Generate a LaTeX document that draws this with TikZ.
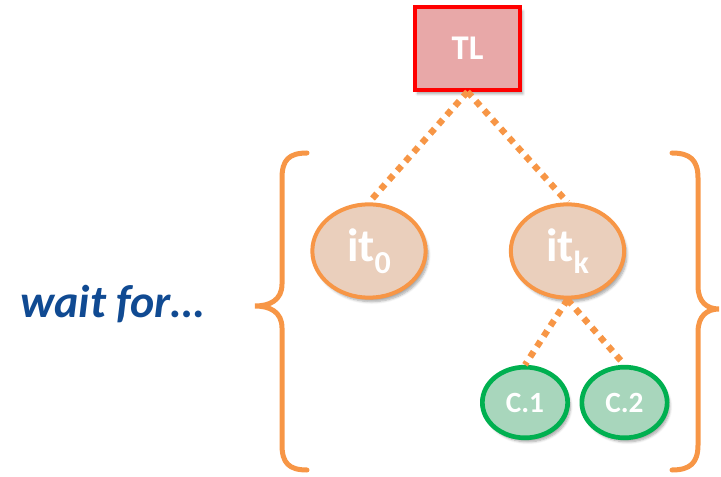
\documentclass[tikz,border=0pt]{standalone}
\usepackage{fontspec}
\setmainfont{Carlito}
\usetikzlibrary{shapes.geometric,shadows.blur}

\definecolor{tlred}{RGB}{255,0,0}
\definecolor{tlfill}{RGB}{232,168,168}
\definecolor{itorange}{RGB}{247,150,70}
\definecolor{itfill}{RGB}{234,207,188}
\definecolor{cgreen}{RGB}{0,176,80}
\definecolor{cfill}{RGB}{168,214,188}
\definecolor{waitblue}{RGB}{16,74,146}

\newcommand{\itsub}[1]{\raisebox{-9pt}{\fontsize{24}{24}\selectfont #1}}

\begin{document}
\begin{tikzpicture}[x=0.75pt,y=-0.75pt,
  softshadow/.style={blur shadow={shadow xshift=2pt,shadow yshift=-3pt,shadow opacity=35,shadow blur steps=6}},
  tlbox/.style={draw=tlred,fill=tlfill,line width=3pt,minimum width=79pt,minimum height=62pt,
    text=white,font=\bfseries\fontsize{26}{26}\selectfont,softshadow},
  itnode/.style={ellipse,draw=itorange,fill=itfill,line width=3pt,minimum width=85pt,minimum height=70pt,
    text=white,font=\bfseries\fontsize{35}{35}\selectfont,softshadow},
  cnode/.style={ellipse,draw=cgreen,fill=cfill,line width=3.5pt,minimum width=64pt,minimum height=53pt,
    text=white,font=\bfseries\fontsize{22}{22}\selectfont,softshadow},
  dotline/.style={draw=itorange,line width=4.8pt,dash pattern=on 4.8pt off 4.5pt},
  bracket/.style={draw=itorange,line width=3.75pt,line cap=round}]
\tikzstyle{every node}+=[inner sep=0pt]
\useasboundingbox (0,0) rectangle (721,477);

% braces
\draw [bracket] (307,153) .. controls (289,153) and (282,160) .. (282,178) -- (282,284)
  .. controls (282,300) and (270,306) .. (255,306) .. controls (270,306) and (282,312) .. (282,328)
  -- (282,445) .. controls (282,463) and (289,470) .. (307,470);
\draw [bracket] (672,153) .. controls (690,153) and (698,160) .. (698,178) -- (698,286)
  .. controls (698,302) and (707,309) .. (719,309) .. controls (707,309) and (698,316) .. (698,332)
  -- (698,445) .. controls (698,463) and (690,470) .. (672,470);

% node places
\path (467.5,48.5) coordinate (tlpos) (369,251) coordinate (it0pos) (567.5,251) coordinate (itkpos)
  (525,402.5) coordinate (c1pos) (624.5,402.5) coordinate (c2pos);

\node [tlbox] (TL) at (tlpos) {TL};
\node [itnode] (it0) at (it0pos) {it\itsub{0}};
\node [itnode] (itk) at (itkpos) {it\itsub{k}};
\node [cnode] (C1) at (c1pos) {C.1};
\node [cnode] (C2) at (c2pos) {C.2};

\draw [dotline] (TL.south) -- (it0.north);
\draw [dotline] (TL.south) -- (itk.north);
\draw [dotline] (itk.south) -- (C1.north);
\draw [dotline] (itk.south) -- (C2.north);

\node [anchor=base east,text=waitblue,font=\bfseries\itshape\fontsize{34.5}{34.5}\selectfont] (wait) at (204,318) {wait for…};
\end{tikzpicture}
\end{document}
